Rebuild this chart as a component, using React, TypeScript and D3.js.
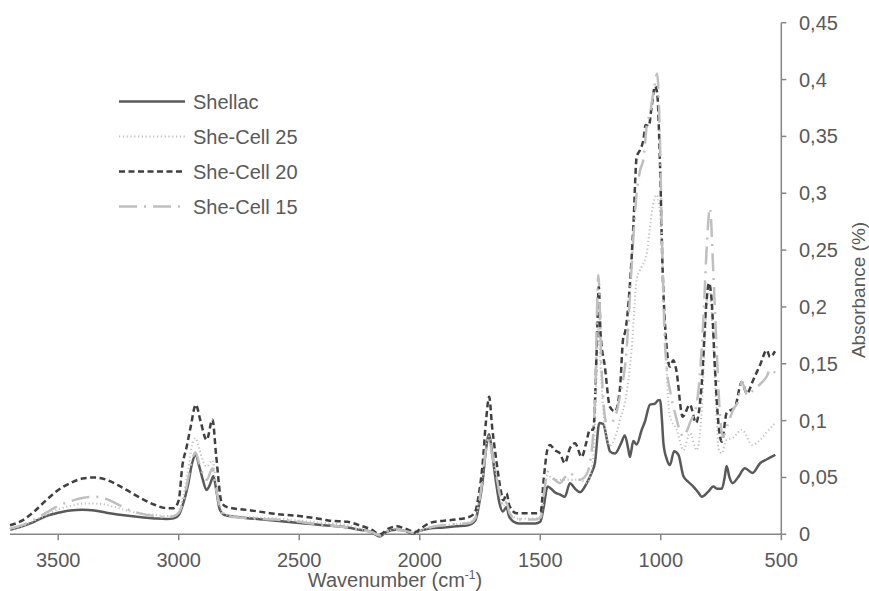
import React from 'react';
import * as d3 from 'd3';

const W = 869;
const H = 591;

const xTicks = [3500, 3000, 2500, 2000, 1500, 1000, 500];
const yTicks = [0, 0.05, 0.1, 0.15, 0.2, 0.25, 0.3, 0.35, 0.4, 0.45];
const seriesNames = ['Shellac', 'She-Cell 25', 'She-Cell 20', 'She-Cell 15'];

const shellac: [number, number][] = [
  [3700, 0.004], [3650, 0.007], [3600, 0.011], [3550, 0.016], [3500, 0.019], [3450, 0.021], [3400, 0.0215],
  [3350, 0.021], [3300, 0.019], [3200, 0.016], [3100, 0.014], [3050, 0.0135], [3020, 0.014], [3000, 0.017],
  [2980, 0.028], [2960, 0.045], [2945, 0.062], [2930, 0.07], [2915, 0.06], [2900, 0.048], [2885, 0.039],
  [2870, 0.044], [2856, 0.051], [2845, 0.04], [2830, 0.022], [2810, 0.017], [2750, 0.015], [2650, 0.013],
  [2500, 0.01], [2400, 0.008], [2300, 0.006], [2250, 0.004], [2200, 0.002], [2165, -0.002], [2140, 0.002],
  [2100, 0.004], [2060, 0.003], [2030, 0.0005], [2000, 0.003], [1960, 0.005], [1900, 0.006], [1850, 0.007],
  [1800, 0.008], [1770, 0.012], [1755, 0.025], [1740, 0.045], [1725, 0.075], [1712, 0.088], [1700, 0.072],
  [1685, 0.048], [1670, 0.028], [1655, 0.02], [1640, 0.024], [1630, 0.016], [1610, 0.011], [1590, 0.0095],
  [1520, 0.0095], [1500, 0.011], [1485, 0.025], [1470, 0.042], [1455, 0.04], [1440, 0.037], [1418, 0.035],
  [1398, 0.033], [1377, 0.045], [1355, 0.04], [1335, 0.037], [1307, 0.045], [1287, 0.054], [1273, 0.063],
  [1255, 0.098], [1239, 0.097], [1220, 0.08], [1211, 0.073], [1190, 0.071], [1165, 0.08], [1149, 0.087],
  [1135, 0.075], [1128, 0.068], [1114, 0.082], [1100, 0.079], [1079, 0.092], [1066, 0.099], [1045, 0.114],
  [1024, 0.115], [1010, 0.118], [1003, 0.118], [995, 0.1], [989, 0.08], [975, 0.066], [962, 0.061],
  [945, 0.073], [927, 0.07], [906, 0.051], [885, 0.046], [865, 0.042], [845, 0.037], [830, 0.033],
  [803, 0.0375], [782, 0.042], [765, 0.04], [747, 0.04], [735, 0.05], [727, 0.06], [715, 0.05], [702, 0.045],
  [680, 0.05], [651, 0.058], [619, 0.054], [588, 0.0625], [560, 0.066], [533, 0.069], [525, 0.07],
];

const sheCell25: [number, number][] = [
  [3700, 0.004], [3650, 0.007], [3600, 0.012], [3550, 0.017], [3500, 0.022], [3450, 0.025], [3400, 0.027],
  [3350, 0.027], [3300, 0.026], [3250, 0.023], [3200, 0.02], [3100, 0.017], [3050, 0.016], [3020, 0.0165],
  [3000, 0.02], [2980, 0.035], [2960, 0.058], [2945, 0.078], [2930, 0.0845], [2915, 0.075], [2900, 0.065],
  [2884, 0.0595], [2860, 0.065], [2845, 0.045], [2822, 0.021], [2800, 0.017], [2700, 0.015], [2600, 0.014],
  [2500, 0.012], [2400, 0.01], [2300, 0.008], [2250, 0.005], [2200, 0.002], [2165, -0.001], [2130, 0.003],
  [2096, 0.005], [2060, 0.003], [2020, 0.001], [1990, 0.004], [1958, 0.006], [1900, 0.008], [1850, 0.009],
  [1792, 0.011], [1770, 0.015], [1755, 0.028], [1740, 0.05], [1725, 0.078], [1712, 0.086], [1700, 0.072],
  [1681, 0.05], [1665, 0.033], [1653, 0.025], [1640, 0.029], [1628, 0.02], [1598, 0.014], [1520, 0.014],
  [1498, 0.016], [1485, 0.035], [1470, 0.052], [1455, 0.05], [1440, 0.048], [1418, 0.048], [1377, 0.048],
  [1335, 0.048], [1307, 0.045], [1280, 0.068], [1266, 0.14], [1258, 0.19], [1250, 0.15], [1235, 0.1],
  [1211, 0.078], [1190, 0.085], [1170, 0.1], [1142, 0.124], [1121, 0.162], [1100, 0.224], [1079, 0.2355],
  [1058, 0.2475], [1045, 0.27], [1028, 0.294], [1017, 0.2985], [1003, 0.282], [992, 0.23], [980, 0.171],
  [970, 0.12], [962, 0.1035], [934, 0.092], [906, 0.074], [879, 0.089], [851, 0.074], [830, 0.11],
  [815, 0.18], [800, 0.22], [785, 0.18], [770, 0.11], [760, 0.075], [747, 0.0713], [727, 0.083],
  [700, 0.085], [664, 0.092], [620, 0.0786], [588, 0.083], [560, 0.09], [526, 0.0977],
];

const sheCell20: [number, number][] = [
  [3700, 0.008], [3650, 0.012], [3600, 0.02], [3550, 0.03], [3500, 0.039], [3450, 0.045], [3400, 0.049],
  [3350, 0.05], [3300, 0.048], [3250, 0.043], [3200, 0.037], [3150, 0.031], [3100, 0.026], [3050, 0.023],
  [3020, 0.023], [3000, 0.03], [2985, 0.06], [2967, 0.077], [2950, 0.095], [2929, 0.114], [2910, 0.1],
  [2884, 0.083], [2860, 0.101], [2845, 0.07], [2822, 0.028], [2800, 0.024], [2700, 0.021], [2600, 0.018],
  [2500, 0.016], [2400, 0.013], [2373, 0.012], [2300, 0.011], [2250, 0.008], [2200, 0.004], [2165, 0.0],
  [2130, 0.005], [2096, 0.007], [2060, 0.005], [2020, 0.002], [1990, 0.006], [1958, 0.01], [1900, 0.012],
  [1850, 0.013], [1792, 0.0155], [1770, 0.02], [1755, 0.035], [1740, 0.06], [1725, 0.1], [1712, 0.121],
  [1700, 0.095], [1681, 0.063], [1665, 0.04], [1653, 0.03], [1640, 0.036], [1628, 0.025], [1598, 0.0185],
  [1520, 0.0185], [1498, 0.02], [1485, 0.05], [1470, 0.075], [1460, 0.0786], [1440, 0.074], [1418, 0.071],
  [1398, 0.0625], [1377, 0.0757], [1356, 0.08], [1328, 0.068], [1310, 0.08], [1294, 0.092], [1280, 0.092],
  [1266, 0.162], [1257, 0.218], [1250, 0.177], [1232, 0.1475], [1211, 0.112], [1190, 0.108], [1170, 0.127],
  [1155, 0.174], [1149, 0.177], [1128, 0.22], [1114, 0.27], [1100, 0.332], [1086, 0.338], [1072, 0.347],
  [1063, 0.36], [1050, 0.359], [1038, 0.376], [1024, 0.394], [1015, 0.388], [1003, 0.3235], [992, 0.23],
  [978, 0.171], [962, 0.1475], [948, 0.153], [937, 0.146], [909, 0.1035], [879, 0.114], [854, 0.098],
  [830, 0.133], [810, 0.206], [800, 0.221], [789, 0.206], [775, 0.145], [761, 0.098], [747, 0.0815],
  [727, 0.1065], [692, 0.112], [664, 0.134], [643, 0.124], [616, 0.136], [588, 0.149], [560, 0.162],
  [547, 0.156], [526, 0.161],
];

const sheCell15: [number, number][] = [
  [3700, 0.005], [3650, 0.008], [3600, 0.013], [3550, 0.019], [3500, 0.025], [3450, 0.029], [3400, 0.032],
  [3350, 0.033], [3300, 0.031], [3250, 0.026], [3200, 0.021], [3100, 0.016], [3050, 0.015], [3020, 0.016],
  [3000, 0.019], [2980, 0.03], [2960, 0.05], [2945, 0.065], [2930, 0.072], [2915, 0.062], [2900, 0.053],
  [2884, 0.048], [2860, 0.058], [2845, 0.04], [2822, 0.019], [2800, 0.016], [2700, 0.014], [2600, 0.013],
  [2500, 0.011], [2400, 0.008], [2300, 0.006], [2250, 0.004], [2200, 0.002], [2165, -0.001], [2130, 0.003],
  [2096, 0.004], [2060, 0.003], [2020, 0.001], [1990, 0.004], [1958, 0.006], [1900, 0.008], [1850, 0.009],
  [1792, 0.01], [1770, 0.014], [1755, 0.027], [1740, 0.048], [1725, 0.075], [1712, 0.084], [1700, 0.07],
  [1681, 0.05], [1665, 0.032], [1653, 0.024], [1640, 0.028], [1628, 0.019], [1598, 0.013], [1520, 0.013],
  [1498, 0.015], [1485, 0.035], [1470, 0.055], [1455, 0.052], [1440, 0.048], [1418, 0.045], [1398, 0.05],
  [1377, 0.054], [1356, 0.05], [1335, 0.048], [1310, 0.052], [1294, 0.0625], [1273, 0.118], [1259, 0.228],
  [1246, 0.1475], [1225, 0.098], [1197, 0.1], [1170, 0.121], [1142, 0.162], [1121, 0.2355], [1114, 0.26],
  [1100, 0.3], [1086, 0.32], [1072, 0.33], [1058, 0.36], [1045, 0.37], [1030, 0.39], [1015, 0.405],
  [1005, 0.36], [995, 0.26], [985, 0.18], [976, 0.147], [962, 0.127], [941, 0.1065], [906, 0.086],
  [879, 0.098], [851, 0.115], [823, 0.19], [810, 0.25], [796, 0.287], [782, 0.23], [768, 0.162],
  [754, 0.1035], [743, 0.086], [720, 0.098], [699, 0.11], [680, 0.117], [664, 0.134], [640, 0.122],
  [616, 0.127], [588, 0.132], [560, 0.139], [547, 0.145], [526, 0.142],
];

const seriesData = [shellac, sheCell25, sheCell20, sheCell15];

const styles = [
  { stroke: '#595959', width: 2.5, dash: undefined as string | undefined },
  { stroke: '#BFBFBF', width: 2, dash: '1.2 2.6' },
  { stroke: '#404040', width: 2.5, dash: '6 3.5' },
  { stroke: '#BFBFBF', width: 2.5, dash: '18 7 2 7' },
];

const FONT = '"Liberation Sans", Arial, sans-serif';
const TXT = '#595959';
const AX = '#868686';

export default function App() {
  const x = d3.scaleLinear().domain([3700, 500]).range([10, 781.3]);
  const y = d3.scaleLinear().domain([0, 0.45]).range([534.3, 22.7]);
  const line = d3
    .line<[number, number]>()
    .x((d) => x(d[0]))
    .y((d) => y(d[1]))
    .curve(d3.curveMonotoneX);
  const fmt = (v: number) => d3.format('.2~f')(v).replace('.', ',');
  const legendY = [101.5, 136.5, 171.5, 206.5];

  return (
    <svg
      width={W}
      height={H}
      style={{ position: 'absolute', left: 0, top: 0, background: '#fff' }}
      fontFamily={FONT}
    >
      <rect x={0} y={0} width={W} height={H} fill="#fff" />
      {/* x axis */}
      <line x1={x(3700)} x2={x(500)} y1={y(0)} y2={y(0)} stroke={AX} strokeWidth={1.5} />
      {xTicks.map((t) => (
        <g key={t}>
          <line x1={x(t)} x2={x(t)} y1={y(0)} y2={y(0) + 6} stroke={AX} strokeWidth={1.5} />
          <text x={x(t)} y={566.5} textAnchor="middle" fontSize={20} fill={TXT}>
            {t}
          </text>
        </g>
      ))}
      <text x={395} y={586.5} textAnchor="middle" fontSize={20} fill={TXT}>
        Wavenumber (cm
        <tspan fontSize={12} dy={-8}>-1</tspan>
        <tspan dy={8}>)</tspan>
      </text>
      {/* y axis right */}
      <line x1={x(500)} x2={x(500)} y1={y(0)} y2={y(0.45)} stroke={AX} strokeWidth={1.5} />
      {yTicks.map((t) => (
        <g key={t}>
          <line x1={x(500)} x2={x(500) + 5} y1={y(t)} y2={y(t)} stroke={AX} strokeWidth={1.5} />
          <text x={799} y={y(t) + 7} fontSize={20} fill={TXT}>
            {fmt(t)}
          </text>
        </g>
      ))}
      <text
        transform={`translate(865,290) rotate(-90)`}
        textAnchor="middle"
        fontSize={19}
        fill={TXT}
      >
        Absorbance (%)
      </text>
      {/* series */}
      {seriesData.map((d, i) => (
        <path
          key={seriesNames[i]}
          d={line(d) || ''}
          fill="none"
          stroke={styles[i].stroke}
          strokeWidth={styles[i].width}
          strokeDasharray={styles[i].dash}
          strokeLinejoin="round"
        />
      ))}
      {/* legend */}
      {seriesNames.map((n, i) => (
        <g key={n}>
          <line
            x1={119}
            x2={185}
            y1={legendY[i]}
            y2={legendY[i]}
            stroke={styles[i].stroke}
            strokeWidth={styles[i].width}
            strokeDasharray={styles[i].dash}
          />
          <text x={193} y={legendY[i] + 7} fontSize={20} fill={TXT}>
            {n}
          </text>
        </g>
      ))}
    </svg>
  );
}
